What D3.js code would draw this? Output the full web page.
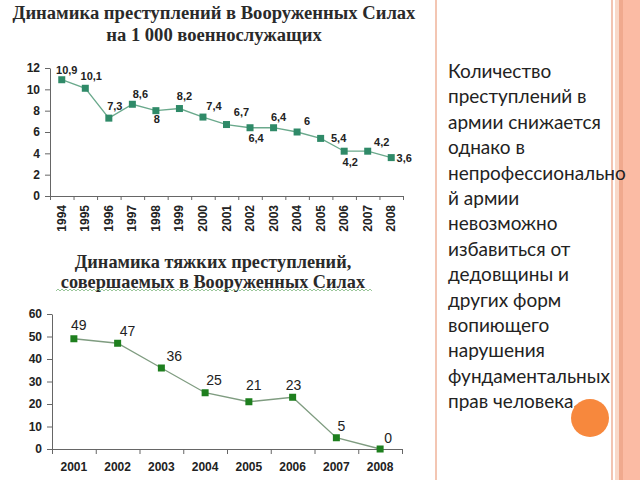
<!DOCTYPE html>
<html><head><meta charset="utf-8">
<script src="https://cdn.jsdelivr.net/npm/d3@7"></script>
<style>
html,body{margin:0;padding:0;background:#fff;}
svg{display:block;}
</style></head>
<body>
<svg id="c" width="640" height="480"></svg>
<script>
// ---- Data ----
const years1 = ["1994","1995","1996","1997","1998","1999","2000","2001","2002","2003","2004","2005","2006","2007","2008"];
const values1 = [10.9, 10.1, 7.3, 8.6, 8, 8.2, 7.4, 6.7, 6.4, 6.4, 6, 5.4, 4.2, 4.2, 3.6];
const yTicks1 = [0, 2, 4, 6, 8, 10, 12];
const years2 = ["2001","2002","2003","2004","2005","2006","2007","2008"];
const values2 = [49, 47, 36, 25, 21, 23, 5, 0];
const yTicks2 = [0, 10, 20, 30, 40, 50, 60];
const title1 = ["Динамика преступлений в Вооруженных Силах", "на 1 000 военнослужащих"];
const title2 = ["Динамика тяжких преступлений,", "совершаемых в Вооруженных Силах"];
const sideText = ["Количество","преступлений в","армии снижается","однако в","непрофессионально","й армии","невозможно","избавиться от","дедовщины и","других форм","вопиющего","нарушения","фундаментальных","прав человека."];
// label placement offsets (style only)
const labelOff1 = [[5,-10],[6,-12],[6,-12],[8,-10],[1,8],[5,-13],[11,-11],[15,-13],[6,10],[5,-11],[10,-11],[18,0],[6,11],[14,-9],[13,0]];
const labelOff2 = [[5,-14],[10,-12],[13,-12],[9,-13],[5,-17],[1,-12],[5,-12],[8,-11]];

const svg = d3.select("#c");
const fmt = v => String(v).replace(".", ",");

// ---- Decorations (slide) ----
svg.append("rect").attr("x",435).attr("y",0).attr("width",2).attr("height",480).attr("fill","#f3c6b3");
svg.append("rect").attr("x",611).attr("y",0).attr("width",2).attr("height",480).attr("fill","#f2c4b2");
svg.append("rect").attr("x",615).attr("y",0).attr("width",4).attr("height",480).attr("fill","#f9d8c8");
svg.append("rect").attr("x",619).attr("y",0).attr("width",4).attr("height",480).attr("fill","#f0a98e");
svg.append("rect").attr("x",623).attr("y",0).attr("width",17).attr("height",480).attr("fill","#fbbba4");

// ---- Titles ----
const serif = "'Liberation Serif','DejaVu Serif',serif";
svg.append("g").selectAll("text").data(title1).join("text")
  .attr("x",214).attr("y",(d,i)=>19+i*22).attr("text-anchor","middle")
  .attr("font-family",serif).attr("font-weight","bold").attr("font-size",18.6).attr("fill","#2a2a2a").text(d=>d);
svg.append("g").selectAll("text").data(title2).join("text")
  .attr("x",213).attr("y",(d,i)=>268+i*20).attr("text-anchor","middle")
  .attr("font-family",serif).attr("font-weight","bold").attr("font-size",18.3).attr("fill","#2a2a2a").text(d=>d);
// wavy underline
{
  let p = "M56,291";
  for (let x=56, k=0; x<372; x+=2, k++) p += `L${x+2},${k%2?291:289}`;
  svg.append("path").attr("d",p).attr("fill","none").attr("stroke","#7fb77f").attr("stroke-width",0.8);
}

const sans = "'Liberation Sans',Arial,sans-serif";

// ---- Chart 1 ----
{
  const x0=50, x1=403, yb=196, yt=68;
  const x = d3.scaleBand().domain(years1).range([x0,x1]);
  const xb = d3.scaleLinear().domain([0,years1.length]).range([x0,x1]);
  const y = d3.scaleLinear().domain([0,12]).range([yb,yt]);
  const g = svg.append("g");
  const ya = g.append("g").attr("transform",`translate(${x0},0)`)
    .call(d3.axisLeft(y).tickValues(yTicks1).tickSize(5).tickSizeOuter(0).tickPadding(5));
  ya.selectAll("text").attr("font-family",sans).attr("font-weight","bold").attr("font-size",12).attr("fill","#222");
  g.append("g").attr("transform",`translate(0,${yb})`)
    .call(d3.axisBottom(xb).ticks(years1.length).tickFormat("").tickSize(4).tickSizeOuter(0));
  g.selectAll(".domain, .tick line").attr("stroke","#666");
  g.append("g").selectAll("text").data(years1).join("text")
    .attr("transform",d=>`translate(${x(d)+x.bandwidth()/2+4},${yb+9}) rotate(-90)`)
    .attr("text-anchor","end").attr("font-family",sans).attr("font-weight","bold").attr("font-size",12).attr("fill","#222").text(d=>d);
  const cx = (d,i)=>x(years1[i])+x.bandwidth()/2;
  g.append("path").datum(values1).attr("fill","none").attr("stroke","#6aa98c").attr("stroke-width",1.3)
    .attr("d",d3.line().x(cx).y(d=>y(d)));
  g.append("g").selectAll("rect").data(values1).join("rect")
    .attr("x",(d,i)=>cx(d,i)-3.5).attr("y",d=>y(d)-3.5).attr("width",7).attr("height",7).attr("fill","#2f8a68");
  g.append("g").selectAll("text").data(values1).join("text")
    .attr("x",(d,i)=>cx(d,i)+labelOff1[i][0]).attr("y",(d,i)=>y(d)+labelOff1[i][1]+4)
    .attr("text-anchor","middle").attr("font-family",sans).attr("font-weight","bold").attr("font-size",11).attr("fill","#222").text(fmt);
}

// ---- Chart 2 ----
{
  const x0=52, x1=402, yb=449, yt=314;
  const x = d3.scaleBand().domain(years2).range([x0,x1]);
  const xb = d3.scaleLinear().domain([0,years2.length]).range([x0,x1]);
  const y = d3.scaleLinear().domain([0,60]).range([yb,yt]);
  const g = svg.append("g");
  const ya = g.append("g").attr("transform",`translate(${x0},0)`)
    .call(d3.axisLeft(y).tickValues(yTicks2).tickSize(5).tickSizeOuter(0).tickPadding(5));
  ya.selectAll("text").attr("font-family",sans).attr("font-weight","bold").attr("font-size",12).attr("fill","#222");
  g.append("g").attr("transform",`translate(0,${yb})`)
    .call(d3.axisBottom(xb).ticks(years2.length).tickFormat("").tickSize(5).tickSizeOuter(0));
  g.selectAll(".domain, .tick line").attr("stroke","#666");
  g.append("g").selectAll("text").data(years2).join("text")
    .attr("x",d=>x(d)+x.bandwidth()/2).attr("y",yb+22)
    .attr("text-anchor","middle").attr("font-family",sans).attr("font-weight","bold").attr("font-size",12).attr("fill","#222").text(d=>d);
  const cx = (d,i)=>x(years2[i])+x.bandwidth()/2;
  g.append("path").datum(values2).attr("fill","none").attr("stroke","#7f9c80").attr("stroke-width",1.3)
    .attr("d",d3.line().x(cx).y(d=>y(d)));
  g.append("g").selectAll("rect").data(values2).join("rect")
    .attr("x",(d,i)=>cx(d,i)-3.5).attr("y",d=>y(d)-3.5).attr("width",7).attr("height",7).attr("fill","#1e7f1e");
  g.append("g").selectAll("text").data(values2).join("text")
    .attr("x",(d,i)=>cx(d,i)+labelOff2[i][0]).attr("y",(d,i)=>y(d)+labelOff2[i][1]+5)
    .attr("text-anchor","middle").attr("font-family",sans).attr("font-size",14).attr("fill","#222").text(fmt);
}

// ---- Side text ----
svg.append("g").selectAll("text").data(sideText).join("text")
  .attr("x",448).attr("y",(d,i)=>78+i*25.4)
  .attr("font-family","Lato,'Open Sans',sans-serif").attr("font-size",19).attr("fill","#222").text(d=>d);

svg.append("circle").attr("cx",590).attr("cy",418).attr("r",19).attr("fill","#f7883d");
</script>
</body></html>
